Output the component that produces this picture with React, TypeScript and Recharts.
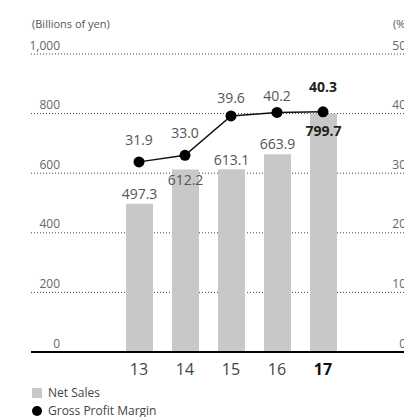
import React from 'react';
import { ComposedChart, Bar, Line, XAxis, YAxis, CartesianGrid, LabelList } from 'recharts';

const years = ['13', '14', '15', '16', '17'];
const netSales = [497.3, 612.2, 613.1, 663.9, 799.7];
const grossMargin = [31.9, 33.0, 39.6, 40.2, 40.3];
const salesTicks = [0, 200, 400, 600, 800, 1000];
const marginTicks = [0, 10, 20, 30, 40, 50];
const highlightYear = '17';

const data = years.map((y, i) => ({ year: y, sales: netSales[i], margin: grossMargin[i] }));

// label vertical shifts (style only)
const salesLabelShift = [-10, 10, -10, -11, 17];
const marginLabelShift = [-22, -23, -18, -17, -25];

const FONT = '"Open Sans", "Noto Sans", sans-serif';
const lastIdx = years.length - 1;

const LeftTick = (props: any) => {
  const { y, payload } = props;
  return (
    <text x={60} y={y - 9} textAnchor="end" dominantBaseline="central" fontSize={12} fill="#666" fontFamily={FONT}>
      {Number(payload.value).toLocaleString('en-US')}
    </text>
  );
};

const RightTick = (props: any) => {
  const { y, payload } = props;
  return (
    <text x={406} y={y - 9} textAnchor="end" dominantBaseline="central" fontSize={12} fill="#666" fontFamily={FONT}>
      {payload.value}
    </text>
  );
};

const XTick = (props: any) => {
  const { x, y, payload } = props;
  const bold = payload.value === highlightYear;
  return (
    <text x={x} y={y + 9} textAnchor="middle" dominantBaseline="central" fontSize={16}
      fontWeight={bold ? 700 : 400} fill={bold ? '#111' : '#444'} fontFamily={FONT}>
      {payload.value}
    </text>
  );
};

const SalesLabel = (props: any) => {
  const { x, y, width, value } = props;
  const i = netSales.indexOf(value);
  const bold = i === lastIdx;
  return (
    <text x={x + width / 2} y={y + salesLabelShift[i]} textAnchor="middle" dominantBaseline="central"
      fontSize={14} fontWeight={bold ? 700 : 400} fill={bold ? '#222' : '#555'} fontFamily={FONT}>
      {value.toFixed(1)}
    </text>
  );
};

const MarginLabel = (props: any) => {
  const { x, y, value } = props;
  const i = grossMargin.indexOf(value);
  const bold = i === lastIdx;
  return (
    <text x={x} y={y + marginLabelShift[i]} textAnchor="middle" dominantBaseline="central"
      fontSize={14} fontWeight={bold ? 700 : 400} fill={bold ? '#222' : '#555'} fontFamily={FONT}>
      {value.toFixed(1)}
    </text>
  );
};

export default function App() {
  return (
    <div style={{ position: 'absolute', left: 0, top: 0, width: 404, height: 417, overflow: 'hidden', background: '#fff', fontFamily: FONT }}>
      <div style={{ position: 'absolute', left: 32, top: 16, fontSize: 11, color: '#555', whiteSpace: 'nowrap' }}>(Billions of yen)</div>
      <div style={{ position: 'absolute', left: 393, top: 16, fontSize: 11, color: '#555', whiteSpace: 'nowrap' }}>(%)</div>
      <ComposedChart width={424} height={417} data={data} margin={{ top: 54, right: 0, bottom: 35, left: 31 }}>
        <CartesianGrid yAxisId="left" vertical={false} stroke="#444" strokeDasharray="1 2" />
        <XAxis dataKey="year" height={30} axisLine={{ stroke: '#000', strokeWidth: 2 }} tickLine={false}
          tick={<XTick />} padding={{ left: 85, right: 78 }} interval={0} />
        <YAxis yAxisId="left" domain={[0, 1000]} ticks={salesTicks} mirror axisLine={false} tickLine={false} tick={<LeftTick />} />
        <YAxis yAxisId="right" orientation="right" domain={[0, 50]} ticks={marginTicks} mirror axisLine={false} tickLine={false} tick={<RightTick />} />
        <Bar yAxisId="left" dataKey="sales" fill="#c8c8c8" barSize={27} isAnimationActive={false}>
          <LabelList dataKey="sales" content={<SalesLabel />} />
        </Bar>
        <Line yAxisId="right" dataKey="margin" stroke="#111" strokeWidth={1.5}
          dot={{ r: 5.5, fill: '#000', stroke: '#000', strokeWidth: 0 }} activeDot={false} isAnimationActive={false}>
          <LabelList dataKey="margin" content={<MarginLabel />} />
        </Line>
      </ComposedChart>
      <div style={{ position: 'absolute', left: 32, top: 388, width: 10, height: 10, background: '#c8c8c8' }} />
      <div style={{ position: 'absolute', left: 48, top: 384, fontSize: 12, color: '#444', whiteSpace: 'nowrap' }}>Net Sales</div>
      <div style={{ position: 'absolute', left: 32, top: 406, width: 10, height: 10, borderRadius: '50%', background: '#000' }} />
      <div style={{ position: 'absolute', left: 48, top: 402, fontSize: 12, color: '#444', whiteSpace: 'nowrap' }}>Gross Profit Margin</div>
    </div>
  );
}
